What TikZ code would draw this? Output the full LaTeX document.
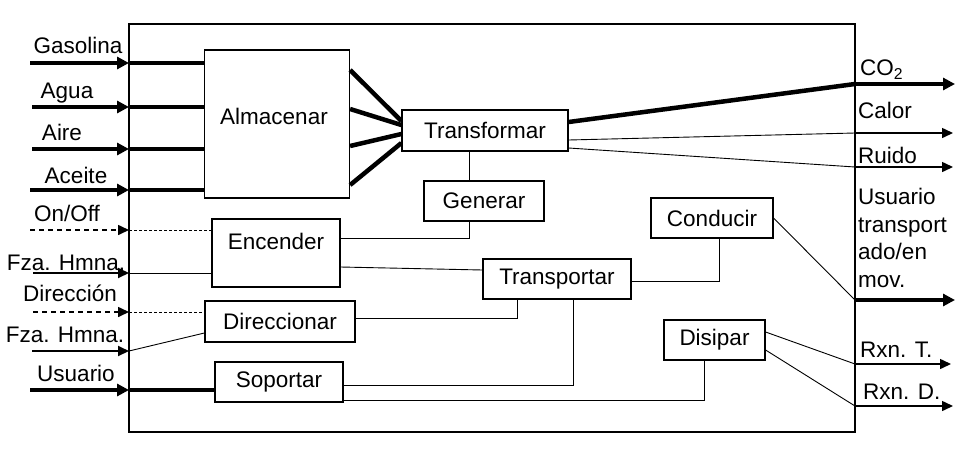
\documentclass[tikz,border=0pt]{standalone}
\usepackage{fontspec}
\setmainfont{Liberation Sans}
\usetikzlibrary{arrows.meta,calc}
\begin{document}
\begin{tikzpicture}[x=1pt,y=-1pt,
  every node/.style={font=\fontsize{22.5}{27.7}\selectfont, inner sep=0pt},
  box/.style={draw, line width=1.2pt, inner sep=0pt},
  thin/.style={line width=0.9pt},
  thk/.style={line width=4.5pt},
  dsh/.style={line width=1.6pt, dash pattern=on 5pt off 4pt},
  dshin/.style={line width=0.9pt, dash pattern=on 3pt off 2pt},
  tipbig/.style={-{Triangle[length=12pt,width=12pt]}},
  tipsmall/.style={-{Triangle[length=11pt,width=10pt]}}]
\useasboundingbox (0,0) rectangle (968,450);
\fill[white] (0,0) rectangle (968,450);
% system boundary
\node[draw, line width=2.5pt, minimum width=726pt, minimum height=408pt] (sys) at (492,228) {};
% function boxes
\node[box, minimum width=145pt, minimum height=148pt] (alm) at (277,124) {};
\node (almt) at (274,116) {Almacenar};
\node[box, minimum width=166pt, minimum height=41pt] (trf) at (485,130.5) {Transformar};
\node[box, minimum width=120pt, minimum height=40pt] (gen) at (484,201) {Generar};
\node[box, minimum width=128pt, minimum height=68pt] (enc) at (276,253) {};
\node (enct) at (276,241) {Encender};
\node[box, minimum width=150pt, minimum height=41pt] (dir) at (280,321.5) {Direccionar};
\node[box, minimum width=128pt, minimum height=40pt] (sop) at (279,382) {Soportar};
\node[box, minimum width=148pt, minimum height=40pt] (tsp) at (557,279) {Transportar};
\node[box, minimum width=122pt, minimum height=40pt] (con) at (712,218) {Conducir};
\node[box, minimum width=101pt, minimum height=40pt] (dis) at (714.5,340) {Disipar};
% input labels
\node (lg) at (78,45) {Gasolina};
\node (lag) at (67,93) {Agua};
\node (lai) at (62,132) {Aire};
\node (lac) at (76,175) {Aceite};
\node (lon) at (67,213) {On/Off};
\node (lf1) at (66,263) {Fza. Hmna.};
\node (ldi) at (70,293) {Dirección};
\node (lf2) at (65,335) {Fza. Hmna.};
\node (lus) at (76,373) {Usuario};
% output labels
\node[anchor=west] (oco) at (860,70) {CO\textsubscript{2}};
\node[anchor=west] (oca) at (858,110) {Calor};
\node[anchor=west] (oru) at (858,155) {Ruido};
\node[anchor=north west, align=left] (ous) at (858,188) {Usuario\\transport\\ado/en\\mov.};
\node[anchor=west] (ort) at (860,350) {Rxn. T.};
\node[anchor=west] (ord) at (863,392) {Rxn. D.};
% input coordinates
\coordinate (g0) at (30,63);   \coordinate (g1) at (129,63);
\coordinate (a0) at (32,107);  \coordinate (a1) at (129,107);
\coordinate (i0) at (32,149);  \coordinate (i1) at (129,149);
\coordinate (c0) at (30,190);  \coordinate (c1) at (129,190);
\coordinate (o0) at (30,230);  \coordinate (o1) at (129,230);
\coordinate (f0) at (33,273);  \coordinate (f1) at (129,273);
\coordinate (d0) at (33,312);  \coordinate (d1) at (129,312);
\coordinate (h0) at (32,351);  \coordinate (h1) at (129,351);
\coordinate (u0) at (30,390);  \coordinate (u1) at (129,390);
% inputs
\draw[thk, tipbig] (g0) -- (g1);
\draw[thk] (g1) -- (g1 -| alm.west);
\draw[thk, tipbig] (a0) -- (a1);
\draw[thk] (a1) -- (a1 -| alm.west);
\draw[thk, tipbig] (i0) -- (i1);
\draw[thk] (i1) -- (i1 -| alm.west);
\draw[thk, tipbig] (c0) -- (c1);
\draw[thk] (c1) -- (c1 -| alm.west);
\draw[dsh, tipsmall] (o0) -- (o1);
\draw[dshin] (o1) -- (o1 -| enc.west);
\draw[line width=2pt, tipsmall] (f0) -- (f1);
\draw[thin] (f1) -- (f1 -| enc.west);
\draw[dsh, tipsmall] (d0) -- (d1);
\draw[dshin] (d1) -- (d1 -| dir.west);
\draw[line width=2pt, tipsmall] (h0) -- (h1);
\draw[thin] (h1) -- ([yshift=-11.5pt]dir.west);
\draw[thk, tipbig] (u0) -- (u1);
\draw[thk] (u1) -- (u1 -| sop.west);
% Almacenar -> Transformar
\draw[thk] ([yshift=54pt]alm.east) -- ([yshift=9.5pt]trf.west);
\draw[thk] ([yshift=15pt]alm.east) -- ([yshift=5.5pt]trf.west);
\draw[thk] ([yshift=-22pt]alm.east) -- ([yshift=-3.5pt]trf.west);
\draw[thk] ([yshift=-61pt]alm.east) -- ([yshift=-12.5pt]trf.west);
% internal connections
\draw[thin] ([xshift=-16pt]trf.south) -- ([xshift=-15pt]gen.north);
\draw[thin] ([xshift=-15pt]gen.south) |- ([yshift=15pt]enc.east);
\draw[thin] ([yshift=-14pt]enc.east) -- ([yshift=9pt]tsp.west);
\draw[thin] ([yshift=3.5pt]dir.east) -| ([xshift=-40pt]tsp.south);
\draw[thin] ([yshift=-2pt]tsp.east) -| ([xshift=7pt]con.south);
\draw[thin] ([yshift=-3pt]sop.east) -| ([xshift=16pt]tsp.south);
\draw[thin] ([yshift=-18pt]sop.east) -| ([xshift=-10.5pt]dis.south);
% output coordinates
\coordinate (co1) at (855,84);  \coordinate (co2) at (955,84);
\coordinate (ca1) at (855,133); \coordinate (ca2) at (953,133);
\coordinate (ru1) at (855,167); \coordinate (ru2) at (953,167);
\coordinate (us1) at (855,300); \coordinate (us2) at (955,300);
\coordinate (rt1) at (855,364); \coordinate (rt2) at (951,364);
\coordinate (rd1) at (855,406); \coordinate (rd2) at (953,406);
% outputs
\draw[thk] ([yshift=8.5pt]trf.east) -- (co1);
\draw[thk, tipbig] (co1) -- (co2);
\draw[thin] ([yshift=-9.5pt]trf.east) -- (ca1);
\draw[line width=1.5pt, tipsmall] (ca1) -- (ca2);
\draw[thin] ([yshift=-17.5pt]trf.east) -- (ru1);
\draw[line width=1.5pt, tipsmall] (ru1) -- (ru2);
\draw[thin] (con.east) -- (us1);
\draw[thk, tipbig] (us1) -- (us2);
\draw[thin] ([yshift=8pt]dis.east) -- (rt1);
\draw[line width=1.5pt, tipsmall] (rt1) -- (rt2);
\draw[thin] ([yshift=-10pt]dis.east) -- (rd1);
\draw[line width=1.5pt, tipsmall] (rd1) -- (rd2);
\end{tikzpicture}
\end{document}
